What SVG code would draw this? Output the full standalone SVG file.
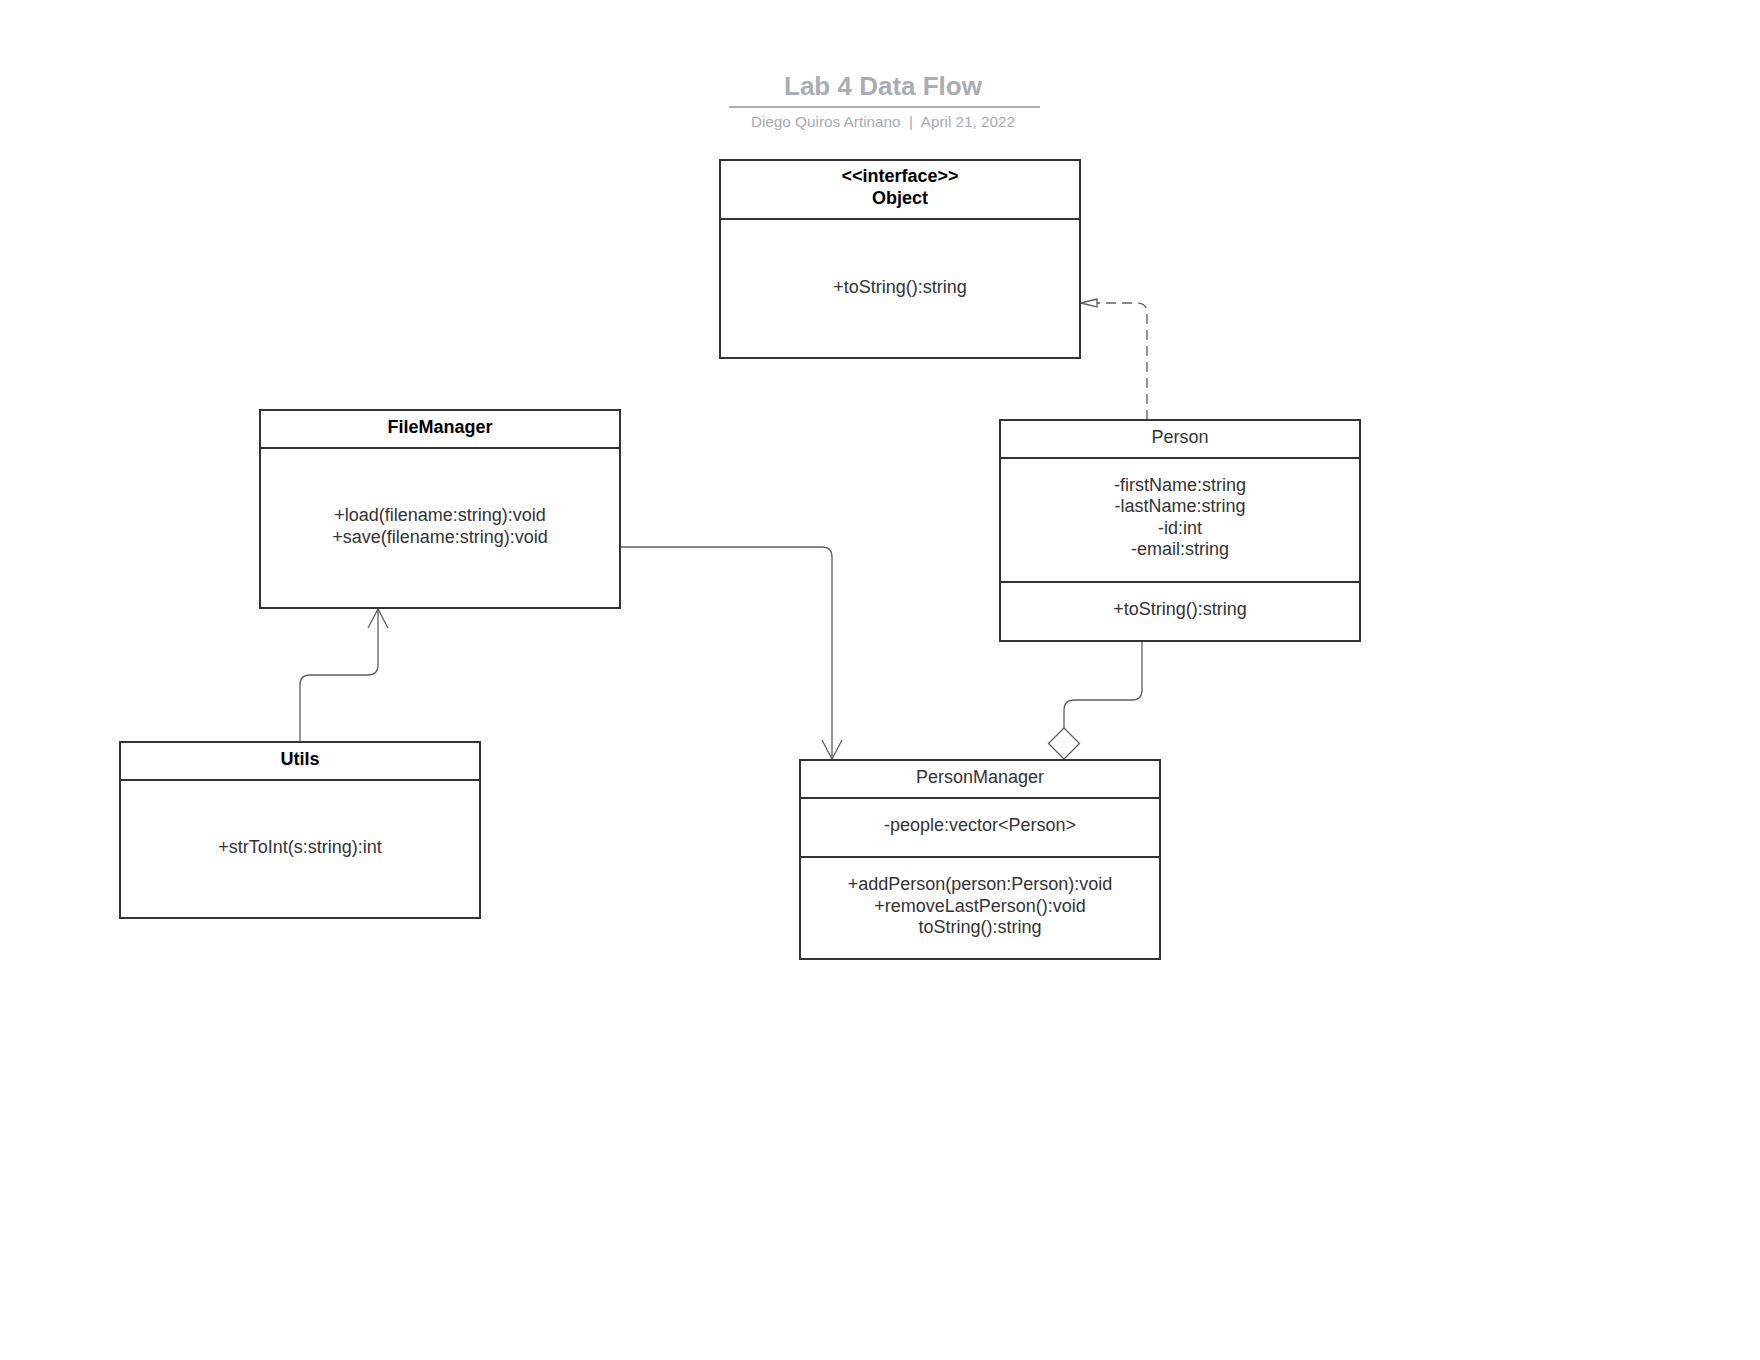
<svg xmlns="http://www.w3.org/2000/svg" width="1760" height="1360" viewBox="0 0 1760 1360">
  <style>
    .box { fill: #ffffff; stroke: #333333; stroke-width: 2; }
    .div { stroke: #333333; stroke-width: 2; fill: none; }
    .txt { font-family: "Liberation Sans", Arial, sans-serif; font-size: 18px; fill: #333333; text-anchor: middle; }
    .bold { font-weight: bold; fill: #000000; }
    .conn { fill: none; stroke: #5e5e5e; stroke-width: 1.3; }
    .head { fill: none; stroke: #5e5e5e; stroke-width: 1.3; }
    .title { font-family: "Liberation Sans", Arial, sans-serif; font-size: 26px; font-weight: bold; fill: #a9adb5; text-anchor: middle; }
    .sub { font-family: "Liberation Sans", Arial, sans-serif; font-size: 15.3px; fill: #a7abb4; text-anchor: middle; white-space: pre; }
  </style>

  <rect width="1760" height="1360" fill="#ffffff"/>

  <!-- Title block -->
  <g id="title">
    <text class="title" x="883" y="95">Lab 4 Data Flow</text>
    <line x1="729" y1="107" x2="1040" y2="107" stroke="#a9adb5" stroke-width="2"/>
    <text class="sub" x="883" y="127" xml:space="preserve">Diego Quiros Artinano  |  April 21, 2022</text>
  </g>

  <!-- Connectors -->
  <g id="connectors">
    <!-- Person realizes Object (dashed, hollow triangle) -->
    <path class="conn" d="M1147,420 V313 Q1147,303 1137,303 H1097" stroke-dasharray="10 6"/>
    <path class="head" d="M1097,299 L1081,303 L1097,307 Z" fill="#ffffff"/>
    <!-- FileManager to PersonManager -->
    <path class="conn" d="M620,547 H822 Q832,547 832,557 V759"/>
    <path class="head" d="M822,740 L832,759 L842,740"/>
    <!-- Utils to FileManager -->
    <path class="conn" d="M300,742 V685 Q300,675 310,675 H368 Q378,675 378,665 V609"/>
    <path class="head" d="M368,628 L378,609 L388,628"/>
    <!-- Person aggregated by PersonManager -->
    <path class="conn" d="M1142,640 V690 Q1142,700 1132,700 H1074 Q1064,700 1064,710 V728"/>
    <path class="head" d="M1064,728 L1079.5,743.5 L1064,759 L1048.5,743.5 Z" fill="#ffffff"/>
  </g>

  <!-- Object interface -->
  <g id="object">
    <rect class="box" x="720" y="160" width="360" height="198"/>
    <line class="div" x1="720" y1="219" x2="1080" y2="219"/>
    <text class="txt bold" x="900" y="182">&lt;&lt;interface&gt;&gt;</text>
    <text class="txt bold" x="900" y="204">Object</text>
    <text class="txt" x="900" y="293">+toString():string</text>
  </g>

  <!-- FileManager -->
  <g id="filemanager">
    <rect class="box" x="260" y="410" width="360" height="198"/>
    <line class="div" x1="260" y1="448" x2="620" y2="448"/>
    <text class="txt bold" x="440" y="433">FileManager</text>
    <text class="txt" x="440" y="521">+load(filename:string):void</text>
    <text class="txt" x="440" y="543">+save(filename:string):void</text>
  </g>

  <!-- Person -->
  <g id="person">
    <rect class="box" x="1000" y="420" width="360" height="221"/>
    <line class="div" x1="1000" y1="458" x2="1360" y2="458"/>
    <line class="div" x1="1000" y1="582" x2="1360" y2="582"/>
    <text class="txt" x="1180" y="443">Person</text>
    <text class="txt" x="1180" y="491">-firstName:string</text>
    <text class="txt" x="1180" y="512">-lastName:string</text>
    <text class="txt" x="1180" y="534">-id:int</text>
    <text class="txt" x="1180" y="555">-email:string</text>
    <text class="txt" x="1180" y="615">+toString():string</text>
  </g>

  <!-- Utils -->
  <g id="utils">
    <rect class="box" x="120" y="742" width="360" height="176"/>
    <line class="div" x1="120" y1="780" x2="480" y2="780"/>
    <text class="txt bold" x="300" y="765">Utils</text>
    <text class="txt" x="300" y="853">+strToInt(s:string):int</text>
  </g>

  <!-- PersonManager -->
  <g id="personmanager">
    <rect class="box" x="800" y="760" width="360" height="199"/>
    <line class="div" x1="800" y1="798" x2="1160" y2="798"/>
    <line class="div" x1="800" y1="857" x2="1160" y2="857"/>
    <text class="txt" x="980" y="783">PersonManager</text>
    <text class="txt" x="980" y="831">-people:vector&lt;Person&gt;</text>
    <text class="txt" x="980" y="890">+addPerson(person:Person):void</text>
    <text class="txt" x="980" y="912">+removeLastPerson():void</text>
    <text class="txt" x="980" y="933">toString():string</text>
  </g>
</svg>
